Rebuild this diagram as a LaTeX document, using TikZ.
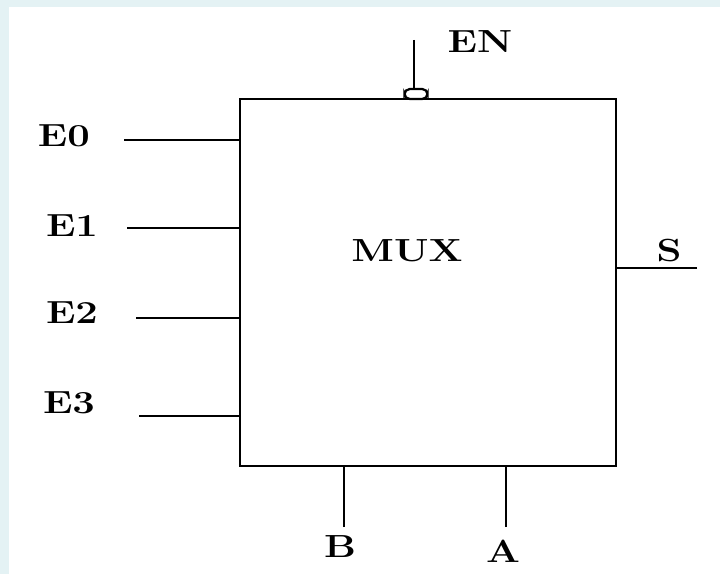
\documentclass[tikz,border=0pt]{standalone}
\usepackage{graphicx}
\newcommand{\pinlabel}[1]{\scalebox{1.25}[1]{\fontsize{18.2}{18.2}\selectfont\bfseries #1}}
\definecolor{pagetint}{HTML}{E4F2F4}
\begin{document}
\begin{tikzpicture}[x=0.02cm,y=-0.02cm]
      \useasboundingbox (0,0) rectangle (720,574);
      \fill[pagetint] (0,0) rectangle (720,574);
      \fill[white] (9,7) rectangle (720,574);
      \node (MUXBOX)[draw,line width=1.25pt,minimum width=7.52cm,minimum height=7.34cm,inner sep=0pt] at (428,282.5) {};
      \begin{scope}[every node/.style={inner sep=0pt}]
        \node (MUX) at (407,251) {\pinlabel{MUX}};
        \node (E0) at (64,136) {\pinlabel{E0}};
        \node (E1) at (72,226) {\pinlabel{E1}};
        \node (E2) at (72,313) {\pinlabel{E2}};
        \node (E3) at (69,403) {\pinlabel{E3}};
        \node (EN) at (480,42) {\pinlabel{EN}};
        \node (S) at (669,251) {\pinlabel{S}};
        \node (B) at (340,547) {\pinlabel{B}};
        \node (A) at (503,551) {\pinlabel{A}};
      \end{scope}
      \node (NOT)[draw,line width=1.25pt,rounded corners=3pt,minimum width=0.46cm,minimum height=0.2cm,inner sep=0pt] at (416,94) {};
      \coordinate (in0) at (124,140);
      \coordinate (in1) at (127,228);
      \coordinate (in2) at (136,318);
      \coordinate (in3) at (139,416);
      \coordinate (out) at (697,268);
      \coordinate (enb) at (414,40);
      \coordinate (selb) at (344,527);
      \coordinate (sela) at (506,527);
      \begin{scope}[line width=1.25pt]
        \draw (in0) -- (in0 -| MUXBOX.west);
        \draw (in1) -- (in1 -| MUXBOX.west);
        \draw (in2) -- (in2 -| MUXBOX.west);
        \draw (in3) -- (in3 -| MUXBOX.west);
        \draw (out) -- (out -| MUXBOX.east);
        \draw (enb) -- (enb |- NOT.north);
        \draw (selb) -- (selb |- MUXBOX.south);
        \draw (sela) -- (sela |- MUXBOX.south);
      \end{scope}
    \end{tikzpicture}
\end{document}
